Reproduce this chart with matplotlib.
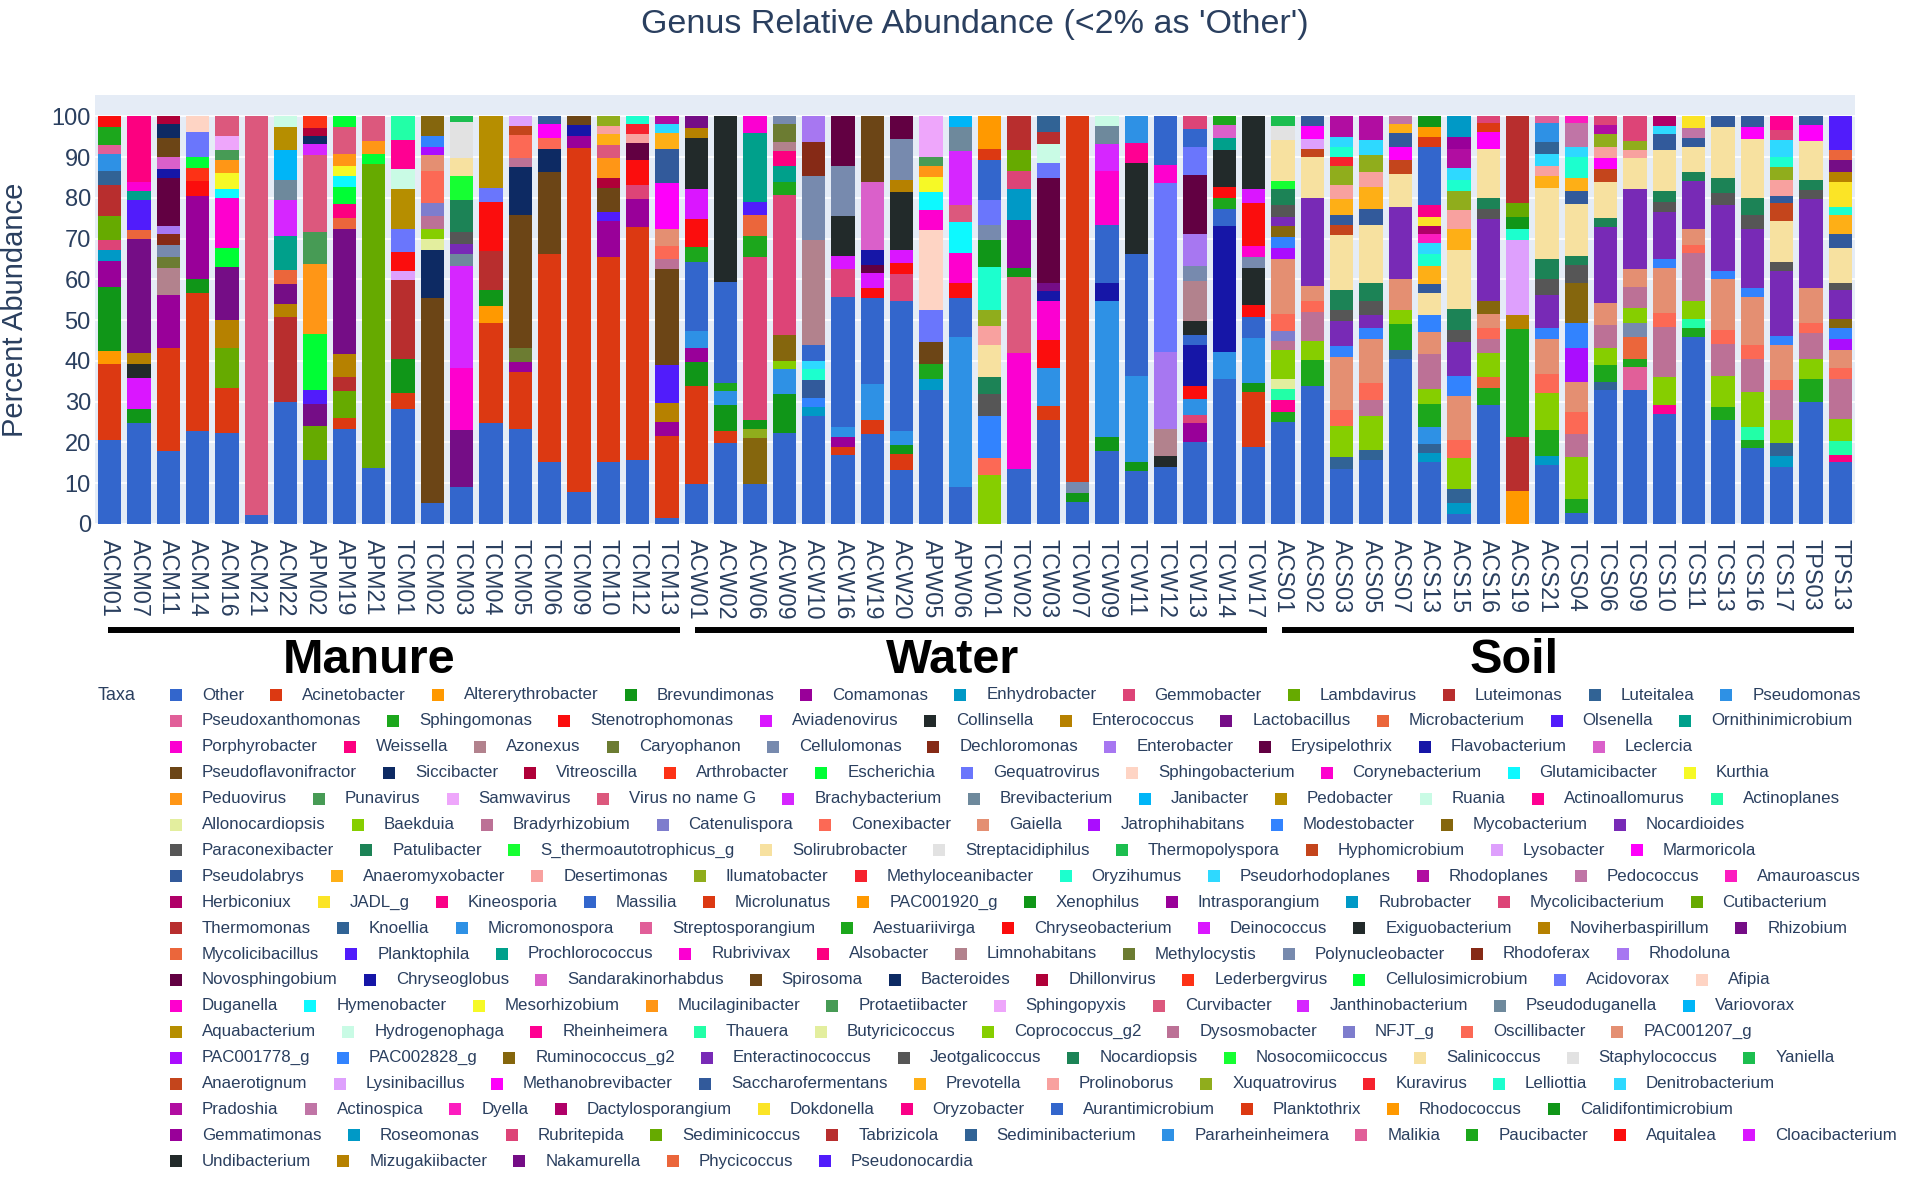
import matplotlib
matplotlib.use("Agg")
import matplotlib.pyplot as plt
import matplotlib.transforms as mtransforms
from matplotlib.patches import Rectangle
import numpy as np

plt.rcParams['font.family'] = ['Liberation Sans', 'DejaVu Sans']

# taxa in trace order (stack order bottom -> top, also legend order)
taxa = [
    "Other", "Acinetobacter", "Altererythrobacter", "Brevundimonas", "Comamonas", "Enhydrobacter",
    "Gemmobacter", "Lambdavirus", "Luteimonas", "Luteitalea", "Pseudomonas",
    "Pseudoxanthomonas", "Sphingomonas", "Stenotrophomonas", "Aviadenovirus", "Collinsella",
    "Enterococcus", "Lactobacillus", "Microbacterium", "Olsenella", "Ornithinimicrobium",
    "Porphyrobacter", "Weissella", "Azonexus", "Caryophanon", "Cellulomonas", "Dechloromonas",
    "Enterobacter", "Erysipelothrix", "Flavobacterium", "Leclercia",
    "Pseudoflavonifractor", "Siccibacter", "Vitreoscilla", "Arthrobacter", "Escherichia",
    "Gequatrovirus", "Sphingobacterium", "Corynebacterium", "Glutamicibacter", "Kurthia",
    "Peduovirus", "Punavirus", "Samwavirus", "Virus no name G", "Brachybacterium", "Brevibacterium",
    "Janibacter", "Pedobacter", "Ruania", "Actinoallomurus", "Actinoplanes",
    "Allonocardiopsis", "Baekduia", "Bradyrhizobium", "Catenulispora", "Conexibacter", "Gaiella",
    "Jatrophihabitans", "Modestobacter", "Mycobacterium", "Nocardioides",
    "Paraconexibacter", "Patulibacter", "S_thermoautotrophicus_g", "Solirubrobacter",
    "Streptacidiphilus", "Thermopolyspora", "Hyphomicrobium", "Lysobacter", "Marmoricola",
    "Pseudolabrys", "Anaeromyxobacter", "Desertimonas", "Ilumatobacter", "Methyloceanibacter",
    "Oryzihumus", "Pseudorhodoplanes", "Rhodoplanes", "Pedococcus", "Amauroascus",
    "Herbiconiux", "JADL_g", "Kineosporia", "Massilia", "Microlunatus", "PAC001920_g", "Xenophilus",
    "Intrasporangium", "Rubrobacter", "Mycolicibacterium", "Cutibacterium",
    "Thermomonas", "Knoellia", "Micromonospora", "Streptosporangium", "Aestuariivirga",
    "Chryseobacterium", "Deinococcus", "Exiguobacterium", "Noviherbaspirillum", "Rhizobium",
    "Mycolicibacillus", "Planktophila", "Prochlorococcus", "Rubrivivax", "Alsobacter",
    "Limnohabitans", "Methylocystis", "Polynucleobacter", "Rhodoferax", "Rhodoluna",
    "Novosphingobium", "Chryseoglobus", "Sandarakinorhabdus", "Spirosoma", "Bacteroides",
    "Dhillonvirus", "Lederbergvirus", "Cellulosimicrobium", "Acidovorax", "Afipia",
    "Duganella", "Hymenobacter", "Mesorhizobium", "Mucilaginibacter", "Protaetiibacter",
    "Sphingopyxis", "Curvibacter", "Janthinobacterium", "Pseudoduganella", "Variovorax",
    "Aquabacterium", "Hydrogenophaga", "Rheinheimera", "Thauera", "Butyricicoccus",
    "Coprococcus_g2", "Dysosmobacter", "NFJT_g", "Oscillibacter", "PAC001207_g",
    "PAC001778_g", "PAC002828_g", "Ruminococcus_g2", "Enteractinococcus", "Jeotgalicoccus",
    "Nocardiopsis", "Nosocomiicoccus", "Salinicoccus", "Staphylococcus", "Yaniella",
    "Anaerotignum", "Lysinibacillus", "Methanobrevibacter", "Saccharofermentans", "Prevotella",
    "Prolinoborus", "Xuquatrovirus", "Kuravirus", "Lelliottia", "Denitrobacterium",
    "Pradoshia", "Actinospica", "Dyella", "Dactylosporangium", "Dokdonella", "Oryzobacter",
    "Aurantimicrobium", "Planktothrix", "Rhodococcus", "Calidifontimicrobium",
    "Gemmatimonas", "Roseomonas", "Rubritepida", "Sediminicoccus", "Tabrizicola",
    "Sediminibacterium", "Pararheinheimera", "Malikia", "Paucibacter", "Aquitalea", "Cloacibacterium",
    "Undibacterium", "Mizugakiibacter", "Nakamurella", "Phycicoccus", "Pseudonocardia",
]
legend_row_sizes = [11, 10, 10, 10, 11, 10, 9, 10, 11, 10, 10, 10, 10, 10, 10, 10, 10, 11, 5]

# plotly qualitative palettes, cycled
G10 = ['#3366CC', '#DC3912', '#FF9900', '#109618', '#990099', '#0099C6', '#DD4477', '#66AA00',
       '#B82E2E', '#316395']
DARK24 = ['#2E91E5', '#E15F99', '#1CA71C', '#FB0D0D', '#DA16FF', '#222A2A', '#B68100', '#750D86',
          '#EB663B', '#511CFB', '#00A08B', '#FB00D1', '#FC0080', '#B2828D', '#6C7C32', '#778AAE',
          '#862A16', '#A777F1', '#620042', '#1616A7', '#DA60CA', '#6C4516', '#0D2A63', '#AF0038']
LIGHT24 = ['#FD3216', '#00FE35', '#6A76FC', '#FED4C4', '#FE00CE', '#0DF9FF', '#F6F926', '#FF9616',
           '#479B55', '#EEA6FB', '#DC587D', '#D626FF', '#6E899C', '#00B5F7', '#B68E00', '#C9FBE5',
           '#FF0092', '#22FFA7', '#E3EE9E', '#86CE00', '#BC7196', '#7E7DCD', '#FC6955', '#E48F72']
ALPHABET = ['#AA0DFE', '#3283FE', '#85660D', '#782AB6', '#565656', '#1C8356', '#16FF32', '#F7E1A0',
            '#E2E2E2', '#1CBE4F', '#C4451C', '#DEA0FD', '#FE00FA', '#325A9B', '#FEAF16', '#F8A19F',
            '#90AD1C', '#F6222E', '#1CFFCE', '#2ED9FF', '#B10DA1', '#C075A6', '#FC1CBF', '#B00068',
            '#FBE426', '#FA0087']
palette = G10 + DARK24 + LIGHT24 + ALPHABET

manure = ["ACM01", "ACM07", "ACM11", "ACM14", "ACM16", "ACM21", "ACM22", "APM02", "APM19", "APM21",
          "TCM01", "TCM02", "TCM03", "TCM04", "TCM05", "TCM06", "TCM09", "TCM10", "TCM12", "TCM13"]
water = ["ACW01", "ACW02", "ACW06", "ACW09", "ACW10", "ACW16", "ACW19", "ACW20", "APW05", "APW06",
         "TCW01", "TCW02", "TCW03", "TCW07", "TCW09", "TCW11", "TCW12", "TCW13", "TCW14", "TCW17"]
soil = ["ACS01", "ACS02", "ACS03", "ACS05", "ACS07", "ACS13", "ACS15", "ACS16", "ACS19", "ACS21",
        "TCS04", "TCS06", "TCS09", "TCS10", "TCS11", "TCS13", "TCS16", "TCS17", "TPS03", "TPS13"]

# percent abundance per sample
acm01 = {"Other": 20.7, "Acinetobacter": 18.6, "Altererythrobacter": 3.2, "Brevundimonas": 15.6,
         "Comamonas": 6.4, "Enhydrobacter": 2.8, "Gemmobacter": 2.5, "Lambdavirus": 5.7, "Luteimonas": 7.8,
         "Luteitalea": 3.4, "Pseudomonas": 4.1, "Pseudoxanthomonas": 2.3, "Sphingomonas": 4.4,
         "Stenotrophomonas": 2.5}
acm07 = {"Other": 24.7, "Brevundimonas": 3.6, "Aviadenovirus": 7.6, "Collinsella": 3.4, "Enterococcus": 2.7,
         "Lactobacillus": 28.0, "Microbacterium": 2.2, "Olsenella": 7.2, "Ornithinimicrobium": 2.2,
         "Porphyrobacter": 2.3, "Weissella": 16.1}
acm11 = {"Other": 18.0, "Acinetobacter": 25.3, "Comamonas": 12.8, "Azonexus": 6.7, "Caryophanon": 2.6,
         "Cellulomonas": 3.1, "Dechloromonas": 2.6, "Enterobacter": 2.1, "Erysipelothrix": 11.8,
         "Flavobacterium": 2.1, "Leclercia": 3.0, "Pseudoflavonifractor": 4.7, "Siccibacter": 3.3,
         "Vitreoscilla": 1.9}
acm14 = {"Other": 22.8, "Acinetobacter": 33.9, "Brevundimonas": 3.5, "Comamonas": 20.3, "Stenotrophomonas": 3.7,
         "Arthrobacter": 3.1, "Escherichia": 2.8, "Gequatrovirus": 6.2, "Sphingobacterium": 3.7}
acm16 = {"Other": 22.4, "Acinetobacter": 11.0, "Lambdavirus": 9.7, "Enterococcus": 7.0, "Lactobacillus": 12.9,
         "Escherichia": 4.7, "Corynebacterium": 12.2, "Glutamicibacter": 2.2, "Kurthia": 4.0, "Peduovirus": 3.3,
         "Punavirus": 2.4, "Samwavirus": 3.5, "Virus no name G": 4.7}
acm21 = {"Other": 2.1, "Virus no name G": 97.9}
acm22 = {"Other": 29.9, "Luteimonas": 21.0, "Enterococcus": 3.2, "Lactobacillus": 4.9, "Microbacterium": 3.4,
         "Ornithinimicrobium": 8.2, "Brachybacterium": 8.9, "Brevibacterium": 4.9, "Janibacter": 7.4,
         "Pedobacter": 5.7, "Ruania": 2.5}
apm02 = {"Other": 15.7, "Lambdavirus": 8.4, "Lactobacillus": 5.3, "Olsenella": 3.4, "Escherichia": 13.7,
         "Peduovirus": 17.4, "Punavirus": 7.8, "Virus no name G": 18.8, "Brachybacterium": 2.7,
         "Bacteroides": 2.0, "Dhillonvirus": 1.9, "Lederbergvirus": 2.9}
apm19 = {"Other": 23.3, "Acinetobacter": 2.8, "Lambdavirus": 6.6, "Luteimonas": 3.3, "Enterococcus": 5.6,
         "Lactobacillus": 30.9, "Microbacterium": 2.5, "Weissella": 3.4, "Escherichia": 4.3,
         "Glutamicibacter": 2.7, "Kurthia": 2.4, "Peduovirus": 3.1, "Virus no name G": 6.6,
         "Cellulosimicrobium": 2.5}
apm21 = {"Other": 13.8, "Lambdavirus": 74.6, "Escherichia": 2.5, "Peduovirus": 3.0, "Virus no name G": 6.1}
tcm01 = {"Other": 28.1, "Acinetobacter": 4.0, "Brevundimonas": 8.3, "Luteimonas": 19.4, "Lysobacter": 2.2,
         "Chryseobacterium": 4.8, "Acidovorax": 5.7, "Aquabacterium": 9.6, "Hydrogenophaga": 4.9,
         "Rheinheimera": 7.3, "Thauera": 5.7}
tcm02 = {"Other": 5.2, "Pseudoflavonifractor": 50.2, "Siccibacter": 11.9, "Allonocardiopsis": 2.7,
         "Baekduia": 2.5, "Bradyrhizobium": 3.0, "Catenulispora": 3.2, "Conexibacter": 8.0, "Gaiella": 3.8,
         "Jatrophihabitans": 2.1, "Modestobacter": 2.6, "Mycobacterium": 4.8}
tcm03 = {"Other": 9.1, "Lactobacillus": 13.9, "Corynebacterium": 15.2, "Brachybacterium": 25.0,
         "Brevibacterium": 3.0, "Nocardioides": 2.6, "Paraconexibacter": 2.9, "Patulibacter": 7.8,
         "S_thermoautotrophicus_g": 5.9, "Solirubrobacter": 4.3, "Streptacidiphilus": 8.9,
         "Thermopolyspora": 1.4}
tcm04 = {"Other": 24.7, "Acinetobacter": 24.5, "Altererythrobacter": 4.4, "Brevundimonas": 3.7,
         "Luteimonas": 9.7, "Stenotrophomonas": 12.1, "Gequatrovirus": 3.4, "Pedobacter": 17.5}
tcm05 = {"Other": 23.3, "Acinetobacter": 14.1, "Comamonas": 2.4, "Caryophanon": 3.3,
         "Pseudoflavonifractor": 32.8, "Siccibacter": 11.7, "Bradyrhizobium": 2.3, "Conexibacter": 5.5,
         "Hyphomicrobium": 2.3, "Lysobacter": 2.3}
tcm06 = {"Other": 15.2, "Acinetobacter": 51.0, "Pseudoflavonifractor": 20.1, "Siccibacter": 5.7,
         "Conexibacter": 2.8, "Marmoricola": 3.3, "Pseudolabrys": 1.9}
tcm09 = {"Other": 7.8, "Acinetobacter": 84.4, "Comamonas": 3.0, "Flavobacterium": 2.8,
         "Pseudoflavonifractor": 2.0}
tcm10 = {"Other": 15.2, "Acinetobacter": 50.4, "Comamonas": 8.7, "Olsenella": 2.3, "Pseudoflavonifractor": 5.9,
         "Vitreoscilla": 2.5, "Peduovirus": 4.9, "Virus no name G": 3.2, "Anaeromyxobacter": 2.5,
         "Desertimonas": 2.1, "Ilumatobacter": 2.3}
tcm12 = {"Other": 15.7, "Acinetobacter": 57.2, "Comamonas": 6.8, "Gemmobacter": 3.4, "Stenotrophomonas": 6.3,
         "Erysipelothrix": 4.1, "Desertimonas": 2.3, "Methyloceanibacter": 2.3, "Oryzihumus": 1.9}
tcm13 = {"Other": 1.4, "Acinetobacter": 20.2, "Comamonas": 3.4, "Enterococcus": 4.6, "Olsenella": 9.3,
         "Pseudoflavonifractor": 23.7, "Bradyrhizobium": 2.5, "Conexibacter": 3.0, "Gaiella": 4.4,
         "Marmoricola": 11.1, "Pseudolabrys": 8.4, "Anaeromyxobacter": 3.9, "Pseudorhodoplanes": 2.2,
         "Rhodoplanes": 1.9}

acw01 = {"Other": 9.7, "Acinetobacter": 24.1, "Brevundimonas": 6.0, "Comamonas": 3.5, "Pseudomonas": 4.1,
         "Massilia": 16.9, "Aestuariivirga": 3.6, "Chryseobacterium": 7.0, "Deinococcus": 7.3,
         "Exiguobacterium": 12.6, "Noviherbaspirillum": 2.3, "Rhizobium": 2.9}
acw02 = {"Other": 19.9, "Acinetobacter": 2.9, "Brevundimonas": 6.4, "Pseudomonas": 3.4, "Sphingomonas": 2.1,
         "Massilia": 24.8, "Exiguobacterium": 40.5}
acw06 = {"Other": 9.7, "Mycobacterium": 11.3, "Ilumatobacter": 2.3, "Xenophilus": 2.3,
         "Mycolicibacterium": 40.0, "Aestuariivirga": 5.0, "Mycolicibacillus": 5.3, "Planktophila": 3.2,
         "Prochlorococcus": 16.9, "Rubrivivax": 4.0}
acw09 = {"Other": 22.4, "Brevundimonas": 9.6, "Pseudomonas": 6.1, "Baekduia": 1.9, "Mycobacterium": 6.4,
         "Mycolicibacterium": 34.4, "Aestuariivirga": 3.1, "Prochlorococcus": 3.9, "Alsobacter": 3.6,
         "Limnohabitans": 2.3, "Methylocystis": 4.4, "Polynucleobacter": 1.9}
acw10 = {"Other": 26.4, "Enhydrobacter": 2.4, "Modestobacter": 2.2, "Pseudolabrys": 4.3, "Oryzihumus": 2.8,
         "Pseudorhodoplanes": 1.9, "Massilia": 4.0, "Limnohabitans": 25.6, "Polynucleobacter": 15.8,
         "Rhodoferax": 8.3, "Rhodoluna": 6.3}
acw16 = {"Other": 16.9, "Acinetobacter": 2.1, "Comamonas": 2.3, "Pseudomonas": 2.4, "Massilia": 31.9,
         "Mycolicibacterium": 7.0, "Deinococcus": 3.1, "Exiguobacterium": 9.8, "Polynucleobacter": 12.3,
         "Novosphingobium": 12.2}
acw19 = {"Other": 22.0, "Acinetobacter": 3.6, "Pseudomonas": 8.8, "Massilia": 21.0, "Chryseobacterium": 2.4,
         "Deinococcus": 3.7, "Novosphingobium": 2.0, "Chryseoglobus": 3.8, "Sandarakinorhabdus": 16.6,
         "Spirosoma": 16.1}
acw20 = {"Other": 13.3, "Acinetobacter": 3.9, "Brevundimonas": 2.3, "Pseudomonas": 3.2, "Massilia": 32.1,
         "Mycolicibacterium": 6.5, "Chryseobacterium": 2.7, "Deinococcus": 3.3, "Exiguobacterium": 14.1,
         "Noviherbaspirillum": 3.0, "Polynucleobacter": 10.1, "Novosphingobium": 5.5}
apw05 = {"Other": 33.0, "Enhydrobacter": 2.5, "Sphingomonas": 3.7, "Pseudoflavonifractor": 5.4,
         "Gequatrovirus": 8.0, "Sphingobacterium": 19.5, "Corynebacterium": 4.9, "Glutamicibacter": 4.5,
         "Kurthia": 3.7, "Peduovirus": 2.6, "Punavirus": 2.3, "Samwavirus": 9.9}
apw06 = {"Other": 9.1, "Pseudomonas": 36.8, "Massilia": 9.5, "Chryseobacterium": 3.8, "Duganella": 7.2,
         "Hymenobacter": 7.6, "Curvibacter": 4.2, "Janthinobacterium": 13.3, "Pseudoduganella": 6.0,
         "Variovorax": 2.5}
tcw01 = {"Baekduia": 12.1, "Conexibacter": 4.1, "Modestobacter": 10.3, "Paraconexibacter": 5.5,
         "Patulibacter": 4.1, "Solirubrobacter": 7.9, "Desertimonas": 4.6, "Ilumatobacter": 4.0,
         "Oryzihumus": 10.4, "Xenophilus": 6.6, "Polynucleobacter": 3.8, "Acidovorax": 6.1,
         "Aurantimicrobium": 9.9, "Planktothrix": 2.6, "Rhodococcus": 8.0}
tcw02 = {"Other": 13.5, "Porphyrobacter": 28.4, "Virus no name G": 18.6, "Xenophilus": 2.3,
         "Intrasporangium": 11.9, "Rubrobacter": 7.6, "Mycolicibacterium": 4.2, "Cutibacterium": 5.3,
         "Thermomonas": 8.2}
tcw03 = {"Other": 25.6, "Acinetobacter": 3.3, "Pseudomonas": 9.3, "Stenotrophomonas": 6.9,
         "Porphyrobacter": 9.7, "Flavobacterium": 2.3, "Rhizobium": 2.1, "Novosphingobium": 25.8,
         "Acidovorax": 3.6, "Hydrogenophaga": 4.6, "Tabrizicola": 3.1, "Sediminibacterium": 3.7}
tcw07 = {"Other": 5.5, "Brevundimonas": 2.1, "Cellulomonas": 2.7, "Microlunatus": 89.7}
tcw09 = {"Other": 17.8, "Brevundimonas": 3.5, "Pseudomonas": 33.5, "Flavobacterium": 4.4, "Massilia": 14.2,
         "Duganella": 13.3, "Janthinobacterium": 6.5, "Pseudoduganella": 4.5, "Hydrogenophaga": 2.3}
tcw11 = {"Other": 13.1, "Brevundimonas": 2.0, "Pseudomonas": 21.1, "Massilia": 30.0, "Exiguobacterium": 22.5,
         "Rheinheimera": 4.8, "Pararheinheimera": 6.5}
tcw12 = {"Other": 14.1, "Collinsella": 2.6, "Azonexus": 6.7, "Enterobacter": 18.9, "Gequatrovirus": 41.3,
         "Corynebacterium": 4.6, "Massilia": 11.8}
tcw13 = {"Other": 20.1, "Comamonas": 4.6, "Gemmobacter": 2.1, "Pseudomonas": 3.9, "Stenotrophomonas": 3.1,
         "Flavobacterium": 10.2, "Massilia": 2.4, "Exiguobacterium": 3.5, "Limnohabitans": 9.7,
         "Polynucleobacter": 3.6, "Rhodoluna": 8.0, "Novosphingobium": 14.5, "Acidovorax": 6.9,
         "Aurantimicrobium": 4.3, "Rubritepida": 3.1}
tcw14 = {"Other": 35.5, "Pseudomonas": 6.6, "Flavobacterium": 31.1, "Massilia": 4.2, "Aestuariivirga": 2.5,
         "Chryseobacterium": 2.8, "Exiguobacterium": 9.1, "Prochlorococcus": 3.0,
         "Sandarakinorhabdus": 3.1, "Paucibacter": 2.1}
tcw17 = {"Other": 18.9, "Acinetobacter": 13.5, "Brevundimonas": 2.1, "Pseudomonas": 11.2, "Massilia": 5.1,
         "Chryseobacterium": 2.9, "Exiguobacterium": 9.1, "Polynucleobacter": 2.6, "Duganella": 2.7,
         "Aquitalea": 10.6, "Cloacibacterium": 3.5, "Undibacterium": 17.8}

acs01 = {"Other": 25.0, "Sphingomonas": 2.5, "Actinoallomurus": 3.0, "Actinoplanes": 2.7,
         "Allonocardiopsis": 2.3, "Baekduia": 7.1, "Bradyrhizobium": 2.4, "Catenulispora": 2.4,
         "Conexibacter": 4.2, "Gaiella": 13.4, "Jatrophihabitans": 2.7, "Modestobacter": 2.7,
         "Mycobacterium": 2.8, "Nocardioides": 2.1, "Paraconexibacter": 2.9, "Patulibacter": 3.9,
         "S_thermoautotrophicus_g": 2.1, "Solirubrobacter": 9.9, "Streptacidiphilus": 3.6,
         "Thermopolyspora": 2.3}
acs02 = {"Other": 33.8, "Sphingomonas": 6.4, "Baekduia": 4.6, "Bradyrhizobium": 7.2, "Conexibacter": 2.6,
         "Gaiella": 3.8, "Nocardioides": 21.5, "Solirubrobacter": 10.2, "Hyphomicrobium": 1.9,
         "Lysobacter": 2.5, "Marmoricola": 3.2, "Pseudolabrys": 2.3}
acs03 = {"Other": 13.4, "Luteitalea": 3.1, "Baekduia": 7.6, "Conexibacter": 3.8, "Gaiella": 13.1,
         "Modestobacter": 2.6, "Nocardioides": 6.2, "Paraconexibacter": 2.8, "Patulibacter": 4.9,
         "Solirubrobacter": 13.3, "Hyphomicrobium": 2.6, "Pseudolabrys": 2.3, "Anaeromyxobacter": 4.0,
         "Desertimonas": 3.5, "Ilumatobacter": 4.6, "Methyloceanibacter": 2.3, "Oryzihumus": 2.3,
         "Pseudorhodoplanes": 2.6, "Rhodoplanes": 5.0}
acs05 = {"Other": 15.7, "Luteitalea": 2.5, "Baekduia": 8.4, "Bradyrhizobium": 3.9, "Conexibacter": 4.2,
         "Gaiella": 10.8, "Modestobacter": 2.7, "Nocardioides": 3.0, "Paraconexibacter": 3.4,
         "Patulibacter": 4.6, "Solirubrobacter": 14.2, "Pseudolabrys": 3.8, "Anaeromyxobacter": 5.5,
         "Desertimonas": 3.6, "Ilumatobacter": 4.2, "Pseudorhodoplanes": 3.7, "Rhodoplanes": 5.8}
acs07 = {"Other": 40.6, "Luteitalea": 2.0, "Sphingomonas": 6.5, "Baekduia": 3.4, "Gaiella": 7.6,
         "Nocardioides": 17.7, "Solirubrobacter": 8.1, "Hyphomicrobium": 3.5, "Marmoricola": 3.2,
         "Pseudolabrys": 3.4, "Anaeromyxobacter": 2.1, "Pedococcus": 1.9}
acs13 = {"Other": 15.2, "Enhydrobacter": 2.1, "Luteitalea": 2.3, "Pseudomonas": 4.3, "Sphingomonas": 5.5,
         "Baekduia": 3.8, "Bradyrhizobium": 8.4, "Gaiella": 5.6, "Modestobacter": 4.0, "Solirubrobacter": 5.5,
         "Pseudolabrys": 2.3, "Anaeromyxobacter": 4.2, "Oryzihumus": 3.0, "Pseudorhodoplanes": 2.8,
         "Amauroascus": 2.1, "Herbiconiux": 2.1, "JADL_g": 2.1, "Kineosporia": 2.9, "Massilia": 14.2,
         "Microlunatus": 2.6, "PAC001920_g": 2.5, "Xenophilus": 2.5}
acs15 = {"Other": 2.4, "Enhydrobacter": 2.8, "Luteitalea": 3.3, "Baekduia": 7.7, "Conexibacter": 4.3,
         "Gaiella": 11.0, "Modestobacter": 4.7, "Nocardioides": 8.5, "Paraconexibacter": 2.9,
         "Patulibacter": 5.1, "Solirubrobacter": 14.6, "Anaeromyxobacter": 5.1, "Desertimonas": 4.6,
         "Ilumatobacter": 4.6, "Oryzihumus": 2.8, "Pseudorhodoplanes": 2.9, "Rhodoplanes": 4.7,
         "Intrasporangium": 2.9, "Rubrobacter": 5.1}
acs16 = {"Other": 29.2, "Sphingomonas": 4.2, "Microbacterium": 2.6, "Baekduia": 5.9, "Bradyrhizobium": 3.4,
         "Conexibacter": 2.9, "Gaiella": 3.4, "Mycobacterium": 3.0, "Nocardioides": 20.3,
         "Paraconexibacter": 2.5, "Patulibacter": 2.5, "Solirubrobacter": 12.1, "Marmoricola": 4.3,
         "Microlunatus": 2.0, "Mycolicibacterium": 1.7}
acs19 = {"Altererythrobacter": 8.0, "Luteimonas": 13.4, "Sphingomonas": 26.4, "Enterococcus": 3.4,
         "Lysobacter": 18.4, "Oryzihumus": 2.8, "Xenophilus": 2.9, "Cutibacterium": 3.4, "Thermomonas": 21.3}
acs21 = {"Other": 14.4, "Enhydrobacter": 2.3, "Sphingomonas": 6.3, "Baekduia": 9.1, "Conexibacter": 4.7,
         "Gaiella": 8.7, "Modestobacter": 2.6, "Nocardioides": 8.2, "Paraconexibacter": 3.9,
         "Patulibacter": 4.8, "Solirubrobacter": 17.5, "Anaeromyxobacter": 2.9, "Desertimonas": 2.5,
         "Pseudorhodoplanes": 2.8, "Sediminibacterium": 3.0, "Pararheinheimera": 4.6, "Malikia": 1.7}
tcs04 = {"Other": 2.7, "Sphingomonas": 3.5, "Baekduia": 10.3, "Bradyrhizobium": 5.5, "Conexibacter": 5.5,
         "Gaiella": 7.4, "Jatrophihabitans": 8.4, "Modestobacter": 6.0, "Mycobacterium": 9.9,
         "Paraconexibacter": 4.3, "Patulibacter": 2.2, "Solirubrobacter": 12.7, "Pseudolabrys": 3.2,
         "Anaeromyxobacter": 3.4, "Oryzihumus": 5.1, "Pseudorhodoplanes": 2.5, "Pedococcus": 5.7,
         "Amauroascus": 1.7}
tcs06 = {"Other": 33.0, "Luteitalea": 1.9, "Sphingomonas": 4.0, "Baekduia": 4.2, "Bradyrhizobium": 5.8,
         "Gaiella": 5.4, "Nocardioides": 18.5, "Patulibacter": 2.2, "Solirubrobacter": 8.9,
         "Hyphomicrobium": 3.1, "Marmoricola": 2.9, "Desertimonas": 2.5, "Ilumatobacter": 3.2,
         "Rhodoplanes": 2.4, "Mycolicibacterium": 2.0}
tcs09 = {"Other": 32.8, "Pseudoxanthomonas": 5.7, "Sphingomonas": 2.1, "Microbacterium": 5.3,
         "Cellulomonas": 3.4, "Baekduia": 3.7, "Bradyrhizobium": 5.2, "Gaiella": 4.4, "Nocardioides": 19.5,
         "Solirubrobacter": 7.6, "Desertimonas": 2.1, "Ilumatobacter": 2.1, "Mycolicibacterium": 6.1}
tcs10 = {"Other": 27.1, "Actinoallomurus": 2.1, "Baekduia": 6.8, "Bradyrhizobium": 12.4, "Conexibacter": 3.4,
         "Gaiella": 11.0, "Modestobacter": 2.3, "Nocardioides": 11.5, "Paraconexibacter": 2.5,
         "Patulibacter": 2.5, "Solirubrobacter": 10.2, "Pseudolabrys": 3.8, "Pseudorhodoplanes": 2.1,
         "Herbiconiux": 2.3}
tcs11 = {"Other": 45.9, "Sphingomonas": 2.3, "Actinoplanes": 2.1, "Baekduia": 4.5, "Bradyrhizobium": 11.6,
         "Conexibacter": 2.1, "Gaiella": 3.8, "Nocardioides": 11.9, "Patulibacter": 2.1,
         "Solirubrobacter": 6.3, "Pseudolabrys": 2.2, "Pedococcus": 2.3, "JADL_g": 2.9}
tcs13 = {"Other": 25.6, "Sphingomonas": 3.2, "Baekduia": 7.4, "Bradyrhizobium": 8.0, "Conexibacter": 3.4,
         "Gaiella": 12.5, "Modestobacter": 2.1, "Nocardioides": 16.1, "Paraconexibacter": 2.9,
         "Patulibacter": 3.8, "Solirubrobacter": 12.5, "Pseudolabrys": 2.5}
tcs16 = {"Other": 18.6, "Sphingomonas": 2.1, "Actinoplanes": 3.2, "Baekduia": 8.4, "Bradyrhizobium": 8.1,
         "Conexibacter": 3.6, "Gaiella": 11.7, "Modestobacter": 2.3, "Nocardioides": 14.5,
         "Paraconexibacter": 3.2, "Patulibacter": 4.2, "Solirubrobacter": 14.6, "Marmoricola": 3.0,
         "Pseudolabrys": 2.5}
tcs17 = {"Other": 14.0, "Enhydrobacter": 2.8, "Luteitalea": 3.1, "Baekduia": 5.5, "Bradyrhizobium": 7.4,
         "Conexibacter": 2.5, "Gaiella": 8.5, "Modestobacter": 2.3, "Nocardioides": 16.1,
         "Paraconexibacter": 2.1, "Solirubrobacter": 10.1, "Hyphomicrobium": 4.3, "Pseudolabrys": 1.8,
         "Desertimonas": 3.9, "Ilumatobacter": 3.2, "Oryzihumus": 2.5, "Pseudorhodoplanes": 4.0,
         "Mycolicibacterium": 2.5, "Rheinheimera": 3.4}
tps03 = {"Other": 30.0, "Sphingomonas": 5.5, "Baekduia": 5.1, "Bradyrhizobium": 6.3, "Conexibacter": 2.3,
         "Gaiella": 8.6, "Nocardioides": 21.9, "Paraconexibacter": 2.2, "Patulibacter": 2.5,
         "Solirubrobacter": 9.5, "Marmoricola": 4.1, "Pseudolabrys": 2.0}
tps13 = {"Other": 15.1, "Weissella": 1.8, "Actinoplanes": 3.4, "Baekduia": 5.5, "Bradyrhizobium": 9.7,
         "Conexibacter": 2.7, "Gaiella": 4.5, "Jatrophihabitans": 2.6, "Modestobacter": 2.9,
         "Mycobacterium": 2.1, "Nocardioides": 7.0, "Paraconexibacter": 1.9, "Solirubrobacter": 8.6,
         "Pseudolabrys": 3.4, "Anaeromyxobacter": 4.5, "Oryzihumus": 2.0, "JADL_g": 6.2,
         "Noviherbaspirillum": 2.4, "Rhizobium": 3.0, "Mycolicibacillus": 2.5, "Planktophila": 8.2}

samples = manure + water + soil
abundance = [acm01, acm07, acm11, acm14, acm16, acm21, acm22, apm02, apm19, apm21,
             tcm01, tcm02, tcm03, tcm04, tcm05, tcm06, tcm09, tcm10, tcm12, tcm13,
             acw01, acw02, acw06, acw09, acw10, acw16, acw19, acw20, apw05, apw06,
             tcw01, tcw02, tcw03, tcw07, tcw09, tcw11, tcw12, tcw13, tcw14, tcw17,
             acs01, acs02, acs03, acs05, acs07, acs13, acs15, acs16, acs19, acs21,
             tcs04, tcs06, tcs09, tcs10, tcs11, tcs13, tcs16, tcs17, tps03, tps13]
groups = [("Manure", manure), ("Water", water), ("Soil", soil)]

for d in abundance:
    for k in d:
        assert k in taxa, k

W, H = 1905, 1177
TXT = '#2a3f5f'
fig = plt.figure(figsize=(W / 100, H / 100), dpi=100)
ax = fig.add_axes([95 / W, 1 - 524 / H, 1760 / W, 429 / H])
ax.set_facecolor('#E5ECF6')

x = np.arange(len(samples))
bottom = np.zeros(len(samples))
for i, name in enumerate(taxa):
    vals = np.array([d.get(name, 0.0) for d in abundance])
    if vals.sum() == 0:
        continue
    ax.bar(x, vals, bottom=bottom, width=0.8, color=palette[i % len(palette)], linewidth=0, zorder=2)
    bottom += vals

ax.set_xlim(-0.5, len(samples) - 0.5)
ax.set_ylim(0, 100 / 0.95)
ax.set_yticks(np.arange(0, 101, 10))
ax.grid(axis='y', color='white', linewidth=1.2, zorder=1)
ax.set_axisbelow(True)
for s in ax.spines.values():
    s.set_visible(False)
ax.set_xticks(x)
ax.set_xticklabels(samples, rotation=-90, fontsize=16.8, color=TXT)
ax.tick_params(axis='x', length=0, pad=11)
ax.tick_params(axis='y', length=0, pad=3, labelsize=17, labelcolor=TXT)

fig.text(975 / W, 1 - 33 / H, "Genus Relative Abundance (<2% as 'Other')", ha='center', va='baseline',
         fontsize=24.5, color=TXT)
fig.text(15 / W, 1 - 310 / H, "Percent Abundance", rotation=90, ha='center', va='center',
         fontsize=21, color=TXT)

# group brackets under the tick labels
trans = mtransforms.blended_transform_factory(ax.transData, ax.transAxes)
label_pos = [8.84, 28.72, 47.88]
for (gname, members), lx in zip(groups, label_pos):
    i0 = samples.index(members[0])
    i1 = samples.index(members[-1])
    ax.plot([i0 - 0.05, i1 + 0.45], [-0.247, -0.247], transform=trans, clip_on=False,
            color='black', lw=4.3, solid_capstyle='butt')
    ax.text(lx, -0.347, gname, transform=trans, ha='center', va='baseline',
            fontsize=35, fontweight='bold', color='black')

# horizontal wrapped legend, plotly style
renderer = fig.canvas.get_renderer()
row_h = 25.9
y0 = 695
fig.text(98 / W, 1 - y0 / H, "Taxa", ha='left', va='center', fontsize=13, color=TXT)
k = 0
for r, n in enumerate(legend_row_sizes):
    yc = y0 + r * row_h
    px = 170
    for j in range(n):
        name = taxa[k]
        col = palette[k % len(palette)]
        fig.patches.append(Rectangle((px / W, 1 - (yc + 6) / H), 12 / W, 12 / H,
                                     transform=fig.transFigure, facecolor=col, edgecolor='none'))
        t = fig.text((px + 32) / W, 1 - yc / H, name, ha='left', va='center', fontsize=12.2, color=TXT)
        tw = t.get_window_extent(renderer).width
        px = px + 32 + tw + 26
        k += 1

fig.savefig("out.png", dpi=100)
